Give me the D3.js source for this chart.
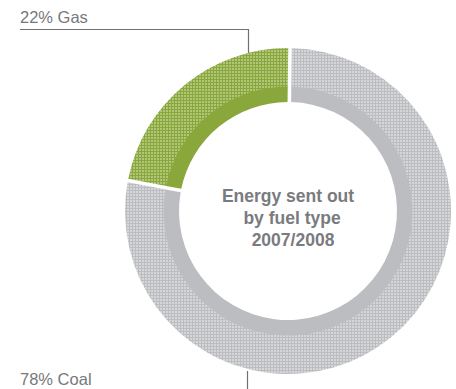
<!DOCTYPE html>
<html>
<head>
<meta charset="utf-8">
<script src="https://cdn.jsdelivr.net/npm/d3@7"></script>
<style>
  html, body { margin: 0; padding: 0; background: #fff; }
  svg { display: block; }
  text { font-family: "Liberation Sans", Arial, sans-serif; }
</style>
</head>
<body>
<script>
// Share of energy sent out, by fuel type, 2007/2008
const fuels = ["Gas", "Coal"];
const shares = [22, 78];
const labels = ["22% Gas", "78% Coal"];
const baseColors = ["#89a73a", "#bcbdc0"];
const dotColors = ["#b0c67a", "#d5d6d8"];
const titleLines = ["Energy sent out", "by fuel type", "2007/2008"];

const W = 456, H = 389;
const cx = 288, cy = 211;
const rOuter = 163, rMid = 124, rInner = 109;

const svg = d3.select("body").append("svg").attr("width", W).attr("height", H);
const defs = svg.append("defs");

// dotted texture for the outer band of each segment
fuels.forEach((f, i) => {
  const p = defs.append("pattern")
    .attr("id", "dots-" + f)
    .attr("patternUnits", "userSpaceOnUse")
    .attr("width", 3).attr("height", 3);
  p.append("rect").attr("width", 3).attr("height", 3).attr("fill", baseColors[i]);
  p.append("rect").attr("x", 1).attr("y", 1).attr("width", 2).attr("height", 2)
    .attr("fill", dotColors[i]).attr("shape-rendering", "crispEdges");
});

// Gas runs counter-clockwise from 12 o'clock, coal takes the rest
const pie = d3.pie().sort(null).value(d => d.v)
  .startAngle(-2 * Math.PI * shares[0] / 100)
  .endAngle(2 * Math.PI - 2 * Math.PI * shares[0] / 100)
  .padAngle(0.022);
const data = fuels.map((f, i) => ({ f, v: shares[i], i }));
const arcs = pie(data);

const g = svg.append("g").attr("transform", `translate(${cx},${cy})`);

const outerArc = d3.arc().innerRadius(rMid).outerRadius(rOuter).padRadius(rOuter);
const innerArc = d3.arc().innerRadius(rInner).outerRadius(rMid + 0.5).padRadius(rOuter);

g.selectAll("path.band-outer").data(arcs).join("path")
  .attr("class", "band-outer")
  .attr("d", outerArc)
  .attr("fill", d => `url(#dots-${d.data.f})`);

g.selectAll("path.band-inner").data(arcs).join("path")
  .attr("class", "band-inner")
  .attr("d", innerArc)
  .attr("fill", d => baseColors[d.data.i]);

// centre title
const title = g.append("text")
  .attr("text-anchor", "middle")
  .attr("fill", "#7a7b7e")
  .attr("font-size", 17.5)
  .attr("font-weight", "bold");
const titleX = [0, 4, 5];
titleLines.forEach((t, k) => {
  title.append("tspan").attr("x", titleX[k]).attr("y", -9.5 + k * 22).text(t);
});

// leader lines and labels
const lineColor = "#6f7073";
svg.append("path")
  .attr("d", "M20,29.5H248.5V53")
  .attr("fill", "none").attr("stroke", lineColor).attr("stroke-width", 1.2);
svg.append("text").attr("x", 20).attr("y", 23)
  .attr("font-size", 16.5).attr("fill", "#77787b").text(labels[0]);

svg.append("path")
  .attr("d", "M247.5,371V389")
  .attr("fill", "none").attr("stroke", lineColor).attr("stroke-width", 1.2);
svg.append("text").attr("x", 20).attr("y", 385)
  .attr("font-size", 16.5).attr("fill", "#77787b").text(labels[1]);
</script>
</body>
</html>
